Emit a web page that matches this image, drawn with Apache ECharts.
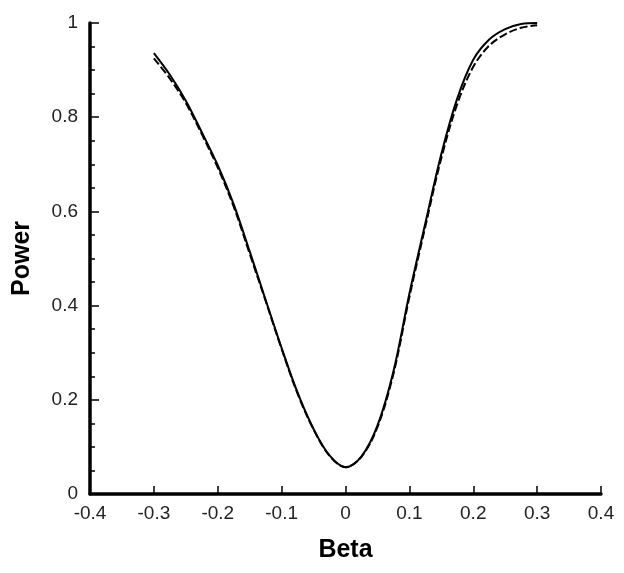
<!DOCTYPE html>
<html>
<head>
<meta charset="utf-8">
<script src="https://cdn.jsdelivr.net/npm/echarts@6/dist/echarts.min.js"></script>
<style>
  html, body { margin: 0; padding: 0; background: #fff; }
  #chart { width: 624px; height: 573px; }
</style>
</head>
<body>
<div id="chart"></div>
<script>
// beta values and power
var beta = [-0.3, -0.275, -0.25, -0.225, -0.2, -0.175, -0.15, -0.125, -0.1, -0.075, -0.05, -0.025,
  0, 0.025, 0.05, 0.075, 0.1, 0.125, 0.15, 0.175, 0.2, 0.225, 0.25, 0.275, 0.3]
var powerSolid = [0.936, 0.89, 0.835, 0.768, 0.698, 0.615, 0.515, 0.412, 0.31, 0.215, 0.138, 0.082,
  0.057, 0.08, 0.145, 0.26, 0.425, 0.575, 0.722, 0.84, 0.922, 0.965, 0.987, 0.998, 1.0]
var powerDashed = [0.925, 0.882, 0.83, 0.764, 0.693, 0.61, 0.51, 0.41, 0.308, 0.213, 0.137, 0.081,
  0.057, 0.079, 0.142, 0.255, 0.418, 0.568, 0.713, 0.828, 0.907, 0.952, 0.976, 0.99, 0.995]

function pairs(xs, ys) {
  return xs.map(function (x, i) { return [x, ys[i]] })
}

var chart = echarts.init(document.getElementById('chart'))
var axisText = { color: '#222', fontSize: 19, fontFamily: 'Liberation Sans' }
var nameText = { fontSize: 25, fontWeight: 'bold', color: '#000', fontFamily: 'Liberation Sans' }
var option = {
  animation: false,
  grid: { left: 90, right: 23, top: 23, bottom: 79 },
  xAxis: {
    type: 'value',
    min: -0.4,
    max: 0.4,
    interval: 0.1,
    name: 'Beta',
    nameLocation: 'middle',
    nameGap: 44,
    nameTextStyle: nameText,
    axisLine: { onZero: false, lineStyle: { color: '#000', width: 3.5 } },
    axisTick: { inside: true, length: 8, lineStyle: { color: '#000', width: 1.5 } },
    axisLabel: Object.assign({ margin: 10 }, axisText),
    splitLine: { show: false }
  },
  yAxis: {
    type: 'value',
    min: 0,
    max: 1,
    interval: 0.2,
    name: 'Power',
    nameLocation: 'middle',
    nameGap: 55,
    nameTextStyle: nameText,
    axisLine: { onZero: false, lineStyle: { color: '#000', width: 3.5 } },
    axisTick: { inside: true, length: 9, lineStyle: { color: '#000', width: 1.5 } },
    minorTick: { show: true, splitNumber: 4, length: 5, lineStyle: { color: '#000', width: 1.5 } },
    axisLabel: Object.assign({ margin: 12 }, axisText),
    splitLine: { show: false }
  },
  series: [{
    type: 'line',
    data: pairs(beta, powerDashed),
    smooth: 0.35,
    showSymbol: false,
    lineStyle: { color: '#000', width: 2, type: [8, 3] }
  }, {
    type: 'line',
    data: pairs(beta, powerSolid),
    smooth: 0.35,
    showSymbol: false,
    lineStyle: { color: '#000', width: 2 }
  }]
}
chart.setOption(option)
</script>
</body>
</html>
